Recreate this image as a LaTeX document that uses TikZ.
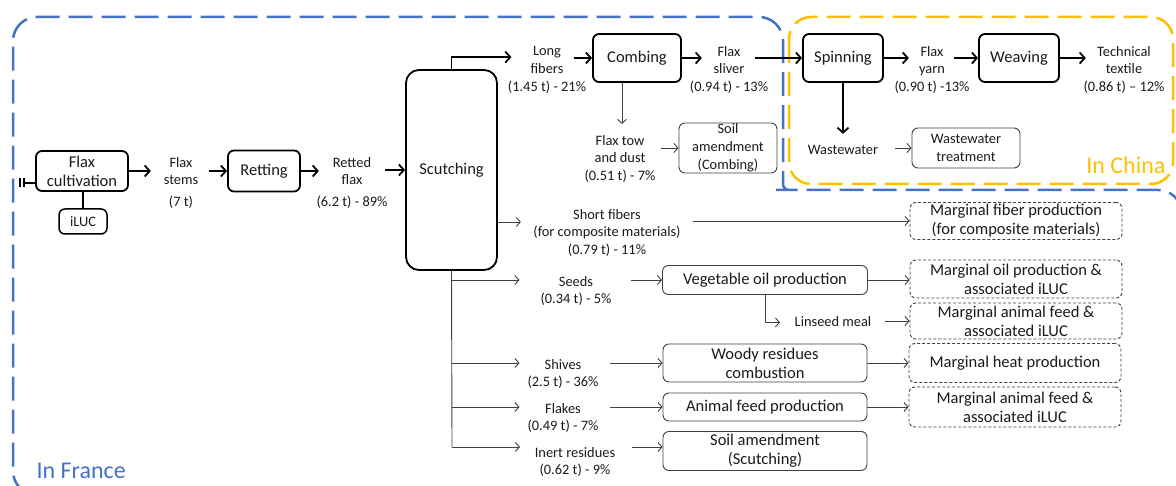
\documentclass[tikz,border=0pt]{standalone}
\usepackage{fontspec}
\setmainfont{Carlito}
\usetikzlibrary{arrows.meta,calc}
\definecolor{frblue}{HTML}{4472C4}
\definecolor{cnyellow}{HTML}{FFC000}
\definecolor{txt}{HTML}{1A1A1A}
\definecolor{thinc}{HTML}{404040}
\newcommand\myBig{\fontsize{16.5}{19}\selectfont}
\newcommand\mySmall{\fontsize{14.4}{17.8}\selectfont}
\tikzset{
  mainbox/.style={draw=black, line width=1.8pt, rounded corners=6pt, align=center,
    font=\myBig, text=txt, inner sep=0pt},
  sidebox/.style={draw=thinc, line width=0.9pt, rounded corners=6pt, align=center,
    font=\myBig, text=txt, inner sep=0pt},
  margbox/.style={sidebox, dashed, dash pattern=on 3pt off 2pt},
  lbl/.style={align=center, font=\mySmall, text=txt, inner sep=0pt, yshift=-2pt},
  thickarr/.style={draw=black, line width=1.8pt, -{Straight Barb[length=5pt,width=11pt,line width=1.8pt]}},
  thinarr/.style={draw=thinc, line width=0.9pt, -{Straight Barb[length=4pt,width=9pt]}},
  thinline/.style={draw=thinc, line width=0.9pt},
  region/.style={line width=2.5pt, dash pattern=on 24pt off 9pt},
}
\begin{document}
\begin{tikzpicture}[x=1pt,y=-1pt]
\useasboundingbox (0,0) rectangle (1176,486);
\begin{scope}
\clip (0,0) rectangle (1176,486);
% France region
\draw[region, draw=frblue, rounded corners=24pt]
  (1182,500) -- (1182,190) -- (800,190) [rounded corners=6pt] -- (783,190) [rounded corners=24pt] -- (783,17) -- (13,17) -- (13,495) -- cycle;
% China region
\draw[region, draw=cnyellow, rounded corners=22pt]
  (789,17) rectangle (1173,184);
\end{scope}
\node[font=\fontsize{24}{28}\selectfont, text=frblue, anchor=west] (france) at (33,471) {In France};
\node[font=\fontsize{24}{28}\selectfont, text=cnyellow, anchor=east] (china) at (1169,165) {In China};

% main row
\node[mainbox, minimum width=92pt, minimum height=40pt] (flaxc) at (82,171) {Flax\\cultivation};
\node[mainbox, line width=1.5pt, minimum width=48pt, minimum height=25pt, font=\mySmall] (iluc) at (83,221.5) {iLUC};
\draw[line width=1.5pt] (flaxc.south -| iluc.north) -- (iluc.north);
\coordinate (gnd) at (23,183);
\draw[line width=1.6pt] ([yshift=-12pt]flaxc.west) -- (gnd);
\draw[line width=1.6pt] (20,178.5) -- (20,187.5) (24,178.5) -- (24,187.5);

\node[lbl] (stems) at (181,181) {Flax\\stems\\[4pt](7 t)};
\node[mainbox, minimum width=72pt, minimum height=41pt] (retting) at (264,171) {Retting};
\node[lbl] (retted) at (352,181) {Retted\\flax\\[4pt](6.2 t) - 89\%};
\node[mainbox, rounded corners=13pt, minimum width=91pt, minimum height=200pt] (scut) at (451.5,170) {Scutching};

\draw[thickarr] (flaxc.east) -- ++(22,0);
\draw[thickarr] ([xshift=-18pt]retting.west) -- (retting.west);
\draw[thickarr] (retting.east) -- ++(18,0);
\draw[thickarr] ([xshift=-20pt]scut.west) -- (scut.west);

% top row
\node[lbl] (longf) at (547,68) {Long\\fibers\\(1.45 t) - 21\%};
\node[mainbox, minimum width=88pt, minimum height=48pt] (comb) at (637,58) {Combing};
\node[lbl] (sliver) at (729,68) {Flax\\sliver\\(0.94 t) - 13\%};
\node[mainbox, minimum width=80pt, minimum height=48pt] (spin) at (843,58) {Spinning};
\node[lbl] (yarn) at (932,68) {Flax\\yarn\\(0.90 t) -13\%};
\node[mainbox, minimum width=80pt, minimum height=48pt] (weave) at (1019,58) {Weaving};
\node[lbl] (textile) at (1124,68) {Technical\\textile\\(0.86 t) -- 12\%};

\draw[thickarr] (scut.north) |- ++(60,-12);
\draw[thickarr] ([xshift=-18pt]comb.west) -- (comb.west);
\draw[thickarr] (comb.east) -- ++(20,0);
\draw[thickarr] ([xshift=-47pt]spin.west) -- (spin.west);
\draw[thickarr] (spin.east) -- ++(25,0);
\draw[thickarr] ([xshift=-24pt]weave.west) -- (weave.west);
\draw[thickarr] (weave.east) -- ++(26,0);

% combing by-product
\node[lbl] (tow) at (620,157) {Flax tow\\and dust\\(0.51 t) - 7\%};
\node[sidebox, font=\mySmall, minimum width=98pt, minimum height=50pt] (soilc) at (728,148) {Soil\\amendment\\(Combing)};
\draw[thinarr] ([xshift=-15pt]comb.south) -- ++(0,41);
\draw[thinarr] ([xshift=-18pt]soilc.west) -- (soilc.west);

% spinning by-product
\node[lbl] (ww) at (843,148) {Wastewater};
\node[sidebox, font=\mySmall, minimum width=108pt, minimum height=40pt] (wwt) at (966,148) {Wastewater\\treatment};
\draw[thickarr] (spin.south) -- ++(0,51);
\draw[thinarr] ([xshift=-17pt]wwt.west) -- (wwt.west);

% short fibers
\node[lbl] (shortf) at (607,231) {Short fibers\\(for composite materials)\\(0.79 t) - 11\%};
\node[margbox, minimum width=212pt, minimum height=37pt] (margfib) at (1016,221) {Marginal fiber production\\(for composite materials)};
\draw[thinarr] ([yshift=-52pt]scut.east) -- ++(23,0);
\draw[thinarr] ([xshift=-217pt]margfib.west) -- (margfib.west);

% trunk
\coordinate (trend) at (452,447);
\draw[thinline] (scut.south) -- (trend);

% seeds
\node[lbl] (seeds) at (576,289) {Seeds\\(0.34 t) - 5\%};
\node[sidebox, minimum width=205pt, minimum height=29pt] (vegoil) at (765,280) {Vegetable oil production};
\node[margbox, minimum width=212pt, minimum height=38pt] (margoil) at (1016,279) {Marginal oil production \&\\associated iLUC};
\draw[thinarr] (scut.south |- vegoil.west) -- ++(68,0);
\draw[thinarr] ([xshift=-31pt]vegoil.west) -- (vegoil.west);
\draw[thinarr] (vegoil.east) -- (vegoil.east -| margoil.west);

% linseed meal
\node[lbl] (linseed) at (833,320) {Linseed meal};
\node[margbox, minimum width=212pt, minimum height=36pt] (margaf1) at (1016,321) {Marginal animal feed \&\\associated iLUC};
\draw[thinarr] (vegoil.south) |- ++(15,27.5);
\draw[thinarr] ([xshift=-25pt]margaf1.west) -- (margaf1.west);

% shives
\node[lbl] (shives) at (563,372) {Shives\\(2.5 t) - 36\%};
\node[sidebox, minimum width=204pt, minimum height=38pt] (woody) at (765,363) {Woody residues\\combustion};
\node[margbox, minimum width=212pt, minimum height=39pt] (margheat) at (1015,363) {Marginal heat production};
\draw[thinarr] (scut.south |- woody.west) -- ++(68,0);
\draw[thinarr] ([xshift=-53pt]woody.west) -- (woody.west);
\draw[thinarr] (woody.east) -- (margheat.west);

% flakes
\node[lbl] (flakes) at (563,416) {Flakes\\(0.49 t) - 7\%};
\node[sidebox, minimum width=204pt, minimum height=28pt] (animal) at (765,407) {Animal feed production};
\node[margbox, minimum width=212pt, minimum height=40pt] (margaf2) at (1015,407) {Marginal animal feed \&\\associated iLUC};
\draw[thinarr] (scut.south |- animal.west) -- ++(68,0);
\draw[thinarr] ([xshift=-53pt]animal.west) -- (animal.west);
\draw[thinarr] (animal.east) -- (margaf2.west);

% inert residues
\node[lbl] (inert) at (575,460) {Inert residues\\(0.62 t) - 9\%};
\node[sidebox, minimum width=204pt, minimum height=39pt] (soils) at (765,451) {Soil amendment\\(Scutching)};
\draw[thinarr] (trend) -- ++(68,0);
\draw[thinarr] ([xshift=-31pt,yshift=4pt]soils.west) -- ([yshift=4pt]soils.west);
\end{tikzpicture}
\end{document}
